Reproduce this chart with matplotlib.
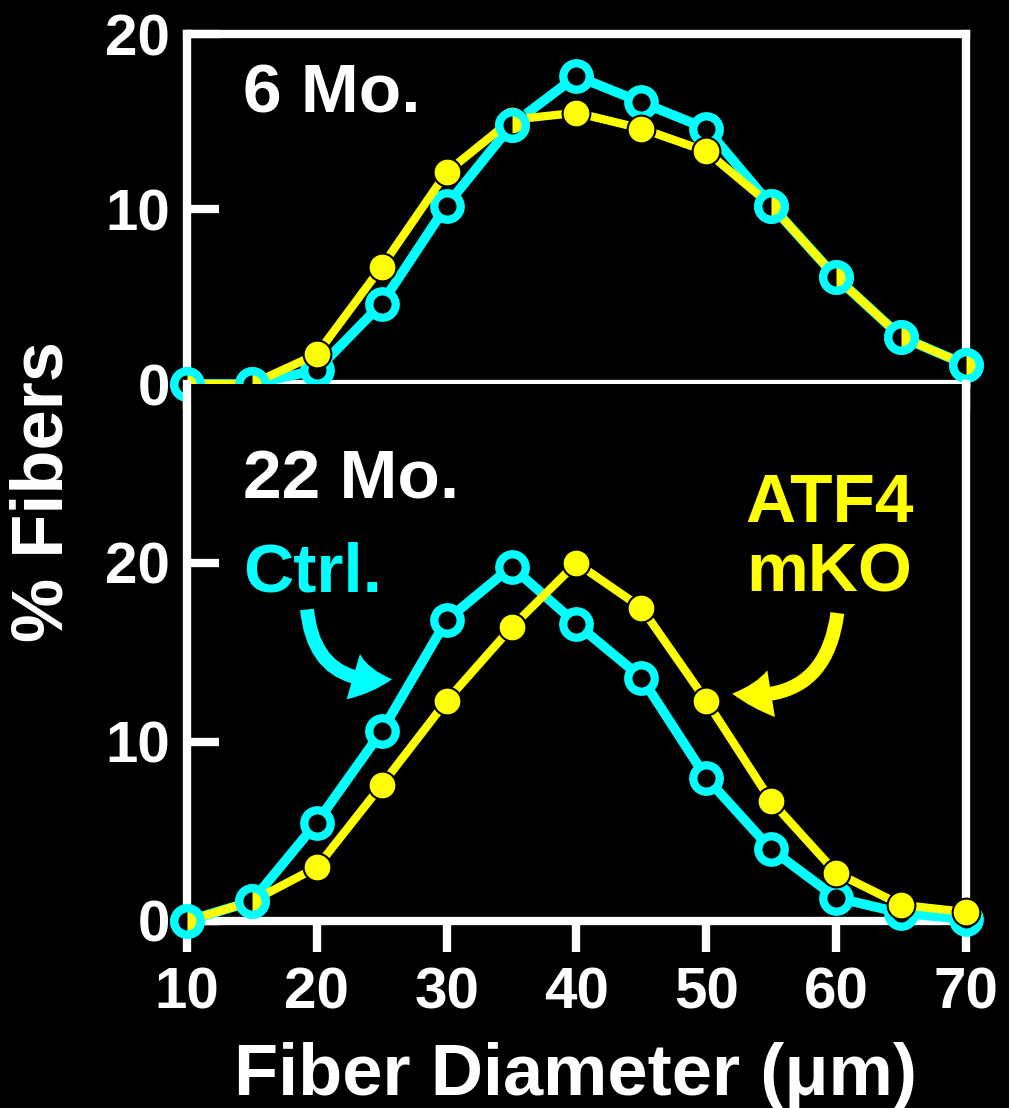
import matplotlib as mpl
mpl.use('Agg')
import matplotlib.pyplot as plt
import numpy as np
from matplotlib.patches import FancyArrowPatch

plt.rcParams['font.family'] = ['Liberation Sans', 'DejaVu Sans']
plt.rcParams['font.weight'] = 'bold'

# fiber diameter bins (um) and % fibers
diam = [10, 15, 20, 25, 30, 35, 40, 45, 50, 55, 60, 65, 70]
ctrl_6 = [0, 0, 0.8, 4.6, 10.2, 14.8, 17.6, 16.1, 14.6, 10.2, 6.1, 2.7, 1.1]
ko_6 = [0, 0, 1.7, 6.7, 12.1, 15.1, 15.5, 14.6, 13.3, 10.2, 6.1, 2.7, 1.1]
ctrl_22 = [0, 1.1, 5.5, 10.6, 16.8, 19.8, 16.6, 13.6, 8.0, 4.0, 1.3, 0.45, 0.1]
ko_22 = [0, 1.1, 3.0, 7.6, 12.3, 16.4, 20.0, 17.5, 12.3, 6.7, 2.7, 0.9, 0.5]
yticks = [0, 10, 20]
xticks = [10, 20, 30, 40, 50, 60, 70]

cyan = '#00ffff'
yellow = '#ffff00'

fig = plt.figure(figsize=(10.09, 11.08), dpi=100, facecolor='black')
ax1 = fig.add_axes([0.1853, 0.6534, 0.772, 0.3159])
ax2 = fig.add_axes([0.1853, 0.1688, 0.772, 0.4847])

for ax in (ax1, ax2):
    ax.set_facecolor('black')
    for s in ax.spines.values():
        s.set_color('white')
        s.set_linewidth(6)
    ax.set_xlim(10, 70)
    ax.set_xticks(xticks)
    ax.set_yticks(yticks)
    ax.tick_params(axis='y', direction='in', length=23, width=6, color='white',
                   labelcolor='white', labelsize=42, pad=12)
    ax.tick_params(axis='x', direction='out', length=22, width=6, color='white',
                   labelcolor='white', labelsize=42, pad=11)

ax1.set_ylim(0, 20)
ax1.tick_params(axis='x', labelbottom=False, length=19)
ax2.set_ylim(0, 30)
ax2.spines['top'].set_visible(False)


def draw(ax, ctrl, ko):
    ax.plot(diam, ctrl, color=cyan, lw=7, marker='o', ms=19, mfc='black', mec=cyan,
            mew=6, zorder=3, clip_on=False)
    ax.plot(diam, ko, color=yellow, lw=6, marker='o', ms=20, mfc=yellow, mec='black',
            mew=1.5, zorder=4, clip_on=False)
    # where both groups coincide the open circle sits on top
    same = np.isclose(ctrl, ko, atol=0.3)
    x = np.array(diam)[same]
    y = np.array(ctrl)[same]
    ax.plot(x, y, ls='none', marker='o', ms=19, fillstyle='left', mfc='black',
            mfcalt='none', mew=0, zorder=5, clip_on=False)
    ax.plot(x, y, ls='none', marker='o', ms=19, mfc='none', mec=cyan, mew=6,
            zorder=5, clip_on=False)


draw(ax1, ctrl_6, ko_6)
draw(ax2, ctrl_22, ko_22)

ax1.text(14.3, 15.5, '6 Mo.', color='white', fontsize=50, ha='left', va='baseline')
ax2.text(14.3, 23.6, '22 Mo.', color='white', fontsize=50, ha='left', va='baseline')
ax2.text(14.3, 18.4, 'Ctrl.', color=cyan, fontsize=50, ha='left', va='baseline')
ax2.text(59.5, 22.3, 'ATF4', color=yellow, fontsize=50, ha='center', va='baseline')
ax2.text(59.5, 18.4, 'mKO', color=yellow, fontsize=50, ha='center', va='baseline')

arrow_kw = dict(arrowstyle='simple,head_length=1.4,head_width=1.7,tail_width=0.5',
                mutation_scale=20, shrinkA=0, shrinkB=0, lw=0, zorder=6)
ax2.add_patch(FancyArrowPatch((19.25, 17.4), (25.8, 13.5),
                              connectionstyle='arc3,rad=0.5', color=cyan, **arrow_kw))
ax2.add_patch(FancyArrowPatch((60.1, 17.2), (52.0, 12.7),
                              connectionstyle='arc3,rad=-0.5', color=yellow, **arrow_kw))

fig.text(44 / 1009, (1108 - 492) / 1108, '% Fibers', rotation=90, ha='center',
         va='center', fontsize=52, color='white')
fig.text(576 / 1009, (1108 - 1095) / 1108, 'Fiber Diameter (μm)', ha='center',
         va='baseline', fontsize=52, color='white')

fig.savefig('out.png', dpi=100, facecolor='black')
